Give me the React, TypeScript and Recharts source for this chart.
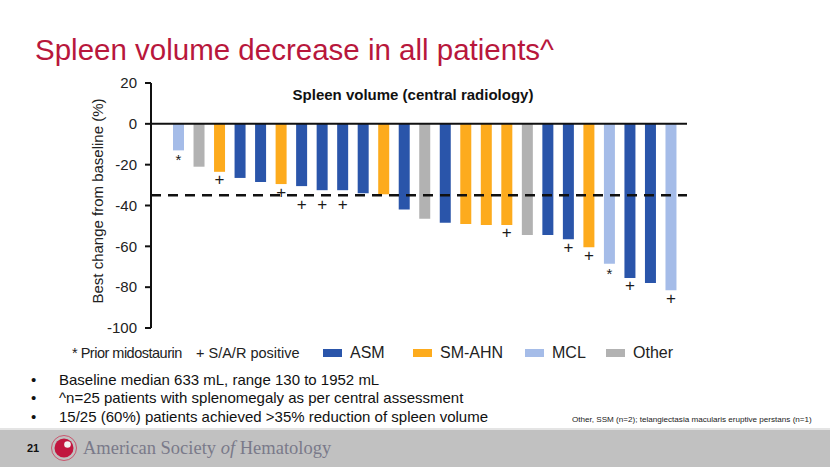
import React from 'react';
import {
  BarChart,
  Bar,
  XAxis,
  YAxis,
  Cell,
  LabelList,
  ReferenceLine
} from 'recharts';

const patients = [
  'P1', 'P2', 'P3', 'P4', 'P5', 'P6', 'P7', 'P8', 'P9', 'P10', 'P11', 'P12', 'P13',
  'P14', 'P15', 'P16', 'P17', 'P18', 'P19', 'P20', 'P21', 'P22', 'P23', 'P24', 'P25'
];
const changes = [
  -13, -21, -23.5, -26.5, -28.5, -29.5, -30.5, -32.5, -32.5, -34, -34.5, -42, -46.5,
  -48.5, -49, -49.5, -49.5, -54.5, -54.5, -56.5, -60.5, -68.5, -75.5, -78, -81.5
];
const groups = [
  'MCL', 'Other', 'SM-AHN', 'ASM', 'ASM', 'SM-AHN', 'ASM', 'ASM', 'ASM', 'ASM', 'SM-AHN', 'ASM', 'Other',
  'ASM', 'SM-AHN', 'SM-AHN', 'SM-AHN', 'Other', 'ASM', 'ASM', 'SM-AHN', 'MCL', 'ASM', 'ASM', 'MCL'
];
const markers = [
  '*', '', '+', '', '', '+', '+', '+', '+', '', '', '', '',
  '', '', '', '+', '', '', '+', '+', '*', '+', '', '+'
];
const yTicks = [20, 0, -20, -40, -60, -80, -100];
const threshold = -35;
const legendGroups = ['ASM', 'SM-AHN', 'MCL', 'Other'];
const bullets = [
  'Baseline median 633 mL, range 130 to 1952 mL',
  '^n=25 patients with splenomegaly as per central assessment',
  '15/25 (60%) patients achieved >35% reduction of spleen volume'
];

const colors: Record<string, string> = {
  ASM: '#2A55AA',
  'SM-AHN': '#FDAB1D',
  MCL: '#A5BCE8',
  Other: '#B2B2B2'
};

const data = patients.map((p, i) => ({
  id: p,
  value: changes[i],
  group: groups[i],
  marker: markers[i]
}));

const SANS = "'Liberation Sans', Arial, sans-serif";

const MarkerLabel = (props: any) => {
  const { x, y, width, height, index } = props;
  const m = markers[index];
  if (!m) return null;
  const v = changes[index];
  const top = Math.min(y, y + height);
  const bottom = Math.max(y, y + height);
  const pxPerUnit = (bottom - top) / Math.abs(v);
  const dashY = top + Math.abs(threshold) * pxPerUnit;
  let cy = bottom + 8;
  // markers for bars ending just above the dashed line sit below it
  if (v <= -30 && v > threshold) cy = dashY + 9;
  const cx = x + width / 2;
  return (
    <text
      x={cx}
      y={m === '*' ? cy + 7 : cy + 5.5}
      textAnchor="middle"
      fontSize={m === '*' ? 15 : 17}
      fontFamily={SANS}
      fill="#1a1a1a"
    >
      {m}
    </text>
  );
};

const YLabel = () => (
  <text
    transform="translate(103,201) rotate(-90)"
    textAnchor="middle"
    fontSize={15}
    fontFamily={SANS}
    fill="#222"
  >
    Best change from baseline (%)
  </text>
);

const App: React.FC = () => {
  return (
    <div
      style={{
        position: 'absolute',
        left: 0,
        top: 0,
        width: 830,
        height: 467,
        background: '#fff',
        overflow: 'hidden',
        fontFamily: SANS
      }}
    >
      <div
        style={{
          position: 'absolute',
          left: 35,
          top: 33,
          fontSize: 29.5,
          color: '#B8173C',
          whiteSpace: 'nowrap'
        }}
      >
        Spleen volume decrease in all patients^
      </div>

      <div style={{ position: 'absolute', left: 0, top: 0 }}>
        <BarChart
          width={830}
          height={467}
          data={data}
          margin={{ top: 83, right: 143, bottom: 139, left: 91 }}
        >
          <XAxis dataKey="id" hide padding={{ left: 17, right: 6 }} />
          <YAxis
            domain={[-100, 20]}
            ticks={yTicks}
            interval={0}
            width={60}
            axisLine={{ stroke: '#111', strokeWidth: 2 }}
            tickLine={{ stroke: '#111', strokeWidth: 2 }}
            tickSize={6}
            tickMargin={8}
            tick={{ fontSize: 15, fill: '#222', fontFamily: SANS }}
            label={<YLabel />}
          />
          <ReferenceLine y={0} stroke="#111" strokeWidth={2} />
          <Bar dataKey="value" barSize={11} isAnimationActive={false}>
            {data.map((d) => (
              <Cell key={d.id} fill={colors[d.group]} />
            ))}
            <LabelList dataKey="marker" content={<MarkerLabel />} />
          </Bar>
          <ReferenceLine
            y={threshold}
            stroke="#111"
            strokeWidth={2.5}
            strokeDasharray="10 7"
          />
        </BarChart>
      </div>

      <div
        style={{
          position: 'absolute',
          left: 413,
          top: 86,
          transform: 'translateX(-50%)',
          fontSize: 15,
          fontWeight: 'bold',
          color: '#111',
          whiteSpace: 'nowrap'
        }}
      >
        Spleen volume (central radiology)
      </div>

      <div
        style={{
          position: 'absolute',
          left: 72,
          top: 345,
          fontSize: 14.5,
          letterSpacing: '-0.5px',
          color: '#222',
          whiteSpace: 'nowrap'
        }}
      >
        * Prior midostaurin
      </div>
      <div
        style={{
          position: 'absolute',
          left: 196,
          top: 345,
          fontSize: 14.5,
          color: '#222',
          whiteSpace: 'nowrap'
        }}
      >
        + S/A/R positive
      </div>
      {legendGroups.map((g, i) => {
        const lefts = [323, 413, 525, 606];
        return (
          <div
            key={g}
            style={{
              position: 'absolute',
              left: lefts[i],
              top: 344,
              display: 'flex',
              alignItems: 'center',
              fontSize: 16,
              color: '#222',
              whiteSpace: 'nowrap'
            }}
          >
            <span
              style={{
                display: 'inline-block',
                width: 19,
                height: 8,
                background: colors[g],
                marginRight: 8
              }}
            />
            {g}
          </div>
        );
      })}

      {bullets.map((b, i) => (
        <div
          key={b}
          style={{
            position: 'absolute',
            left: 31,
            top: 371 + i * 18.3,
            fontSize: 15,
            lineHeight: '17px',
            color: '#111',
            whiteSpace: 'nowrap'
          }}
        >
          <span style={{ display: 'inline-block', width: 28 }}>•</span>
          {b}
        </div>
      ))}

      <div
        style={{
          position: 'absolute',
          left: 572,
          top: 415,
          fontSize: 8.1,
          color: '#222',
          whiteSpace: 'nowrap'
        }}
      >
        Other, SSM (n=2); telangiectasia macularis eruptive perstans (n=1)
      </div>

      <div
        style={{
          position: 'absolute',
          left: 0,
          top: 428,
          width: 830,
          height: 2,
          background: '#E4E4E4'
        }}
      />
      <div
        style={{
          position: 'absolute',
          left: 0,
          top: 430,
          width: 830,
          height: 37,
          background: '#C1C1C1'
        }}
      />
      <div
        style={{
          position: 'absolute',
          left: 27,
          top: 442,
          fontSize: 11,
          fontWeight: 'bold',
          color: '#111'
        }}
      >
        21
      </div>
      <svg
        style={{ position: 'absolute', left: 50, top: 434 }}
        width={28}
        height={28}
      >
        <circle cx={14} cy={14} r={12.5} fill="none" stroke="#C9566E" strokeWidth={1} />
        <circle cx={14} cy={14} r={9.5} fill="#C1163F" />
        <circle cx={17.5} cy={10.5} r={3.3} fill="#F3F3F3" />
      </svg>
      <div
        style={{
          position: 'absolute',
          left: 83,
          top: 438,
          fontSize: 18.5,
          fontFamily: "'Liberation Serif', 'Times New Roman', serif",
          color: '#7A7A8A',
          whiteSpace: 'nowrap'
        }}
      >
        American Society <i>of</i> Hematology
      </div>
    </div>
  );
};

export default App;
